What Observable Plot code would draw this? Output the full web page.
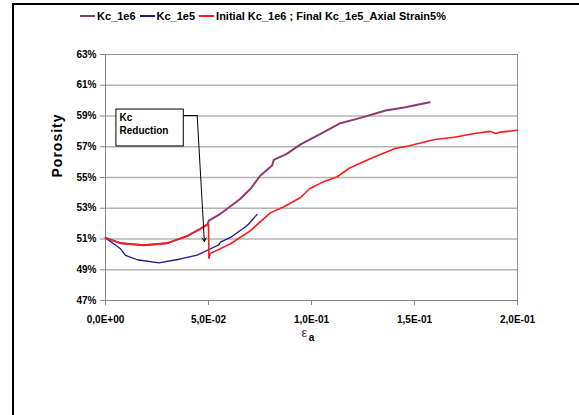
<!DOCTYPE html>
<html><head><meta charset="utf-8">
<script src="https://cdn.jsdelivr.net/npm/d3@7"></script>
<script src="https://cdn.jsdelivr.net/npm/@observablehq/plot@0.6"></script>
<style>
body{margin:0;background:#fff;font-family:"Liberation Sans",Arial,sans-serif;}
#wrap{position:relative;width:579px;height:415px;overflow:hidden;}
#frame{position:absolute;left:12px;top:3px;width:620px;height:500px;border-left:2px solid #000;border-top:2px solid #000;box-sizing:border-box;pointer-events:none;}
#legend{position:absolute;left:80px;top:10px;display:flex;align-items:center;font-weight:bold;font-size:11px;white-space:nowrap;color:#000;}
.sw{width:15px;height:2px;margin-right:2px;}
.it{display:flex;align-items:center;margin-right:4px;}
</style></head><body>
<div id="wrap"><div id="chart"></div><div id="frame"></div><div id="legend"></div></div>
<script>
// ---- data ----
const seriesNames = ["Kc_1e6", "Kc_1e5", "Initial Kc_1e6 ; Final Kc_1e5_Axial Strain5%"];
const seriesColors = ["#8e3a6e", "#1a1a8c", "#ff1a1a"];

const kc1e6X = [0, 0.0073, 0.0186, 0.030, 0.0398, 0.046, 0.0494, 0.0502, 0.0558, 0.0623, 0.0655, 0.0704, 0.0752, 0.0809, 0.0817, 0.088, 0.0947, 0.1044, 0.114, 0.1238, 0.136, 0.1455, 0.1574];
const kc1e6Y = [51.07, 50.73, 50.6, 50.73, 51.2, 51.66, 51.94, 52.2, 52.64, 53.29, 53.62, 54.27, 55.13, 55.78, 56.15, 56.54, 57.15, 57.84, 58.53, 58.88, 59.36, 59.57, 59.9];

const kc1e5X = [0, 0.0073, 0.0097, 0.0154, 0.0259, 0.0364, 0.0445, 0.05, 0.055, 0.0558, 0.0607, 0.0688, 0.0736];
const kc1e5Y = [51.07, 50.36, 49.93, 49.65, 49.45, 49.7, 49.95, 50.3, 50.62, 50.8, 51.1, 51.88, 52.6];

const mixX = [0, 0.0073, 0.0186, 0.030, 0.0398, 0.046, 0.0494, 0.0500, 0.0502, 0.0508, 0.0607, 0.0704, 0.080, 0.0866, 0.0947, 0.099, 0.1055, 0.1125, 0.1183, 0.123, 0.131, 0.1406, 0.147, 0.1597, 0.1694, 0.179, 0.1869, 0.1893, 0.1915, 0.2];
const mixY = [51.07, 50.73, 50.6, 50.73, 51.2, 51.66, 51.94, 51.94, 49.75, 50.05, 50.69, 51.55, 52.7, 53.1, 53.7, 54.27, 54.7, 55.05, 55.6, 55.9, 56.37, 56.89, 57.05, 57.47, 57.62, 57.86, 58.0, 57.86, 57.95, 58.07];

const xTicks = [0, 0.05, 0.1, 0.15, 0.2];
const xTickLabels = ["0,0E+00", "5,0E-02", "1,0E-01", "1,5E-01", "2,0E-01"];
const yTicks = [47, 49, 51, 53, 55, 57, 59, 61, 63];
const yGrid = [49, 51, 53, 55, 57, 59, 61];
const yLabel = "Porosity";
const xLabelMain = "ε";
const xLabelSub = "a";

const noteLines = ["Kc", "Reduction"];
const noteBox = {x1: 0.0053, x2: 0.038, y1: 59.42, y2: 57.02};
const noteText = [{x: 0.0068, y: 58.9, t: noteLines[0]}, {x: 0.0068, y: 58.06, t: noteLines[1]}];
const leader = [{x: 0.038, y: 59.03}, {x: 0.0445, y: 59.03}];
const arrowSeg = [{x1: 0.0445, y1: 59.03, x2: 0.048, y2: 50.84}];

// ---- build ----
const toRows = (xs, ys) => xs.map((x, i) => ({x, y: ys[i]}));
const r6 = toRows(kc1e6X, kc1e6Y), r5 = toRows(kc1e5X, kc1e5Y), rm = toRows(mixX, mixY);

const chart = Plot.plot({
  width: 579, height: 415,
  marginLeft: 105, marginRight: 62, marginTop: 54, marginBottom: 115,
  style: {fontFamily: "Liberation Sans, Arial, sans-serif", fontSize: "10px", fontWeight: "bold", background: "transparent", overflow: "visible", color: "#000"},
  x: {domain: [0, 0.2]},
  y: {domain: [47, 63]},
  marks: [
    Plot.gridY(yGrid, {stroke: "#b4b4b4", strokeOpacity: 1, strokeWidth: 1.5}),
    Plot.ruleY([63], {stroke: "#8c8cae"}),
    Plot.ruleX([0.2], {stroke: "#8c8cae"}),
    Plot.ruleX([0], {stroke: "#868686"}),
    Plot.ruleY([47], {stroke: "#868686"}),
    Plot.axisY({ticks: yTicks, tickFormat: d => d + "%", tickSize: 5, tickPadding: 4, label: null, stroke: "#868686"}),
    Plot.axisX({ticks: xTicks, tickFormat: d => xTickLabels[xTicks.indexOf(d)], tickSize: 5, tickPadding: 10, label: null, stroke: "#868686"}),
    Plot.line(r6, {x: "x", y: "y", stroke: seriesColors[0], strokeWidth: 2}),
    Plot.line(r5, {x: "x", y: "y", stroke: seriesColors[1], strokeWidth: 1.3}),
    Plot.line(rm, {x: "x", y: "y", stroke: seriesColors[2], strokeWidth: 1.6}),
    Plot.rect([noteBox], {x1: "x1", x2: "x2", y1: "y1", y2: "y2", fill: "white", stroke: "black", strokeWidth: 1}),
    Plot.text(noteText, {x: "x", y: "y", text: "t", textAnchor: "start", fontSize: 10, fontWeight: "bold"}),
    Plot.line(leader, {x: "x", y: "y", stroke: "black", strokeWidth: 1}),
    Plot.arrow(arrowSeg, {x1: "x1", y1: "y1", x2: "x2", y2: "y2", stroke: "black", strokeWidth: 1, headLength: 6}),
    Plot.text([yLabel], {frameAnchor: "left", dx: -48, rotate: -90, fontSize: 14, fontWeight: "bold"}),
    Plot.text([xLabelMain], {frameAnchor: "bottom", dx: -7, dy: 36, fontSize: 13, fontWeight: "normal", fill: "#333"}),
    Plot.text([xLabelSub], {frameAnchor: "bottom", dx: 0, dy: 40, fontSize: 10, fontWeight: "bold"})
  ]
});
document.getElementById("chart").appendChild(chart);
d3.select(chart).selectAll("text").filter(function(){ return this.textContent === yLabel; }).style("letter-spacing", "1px");

// legend
const lg = d3.select("#legend");
seriesNames.forEach((n, i) => {
  const it = lg.append("div").attr("class", "it");
  it.append("div").attr("class", "sw").style("background", seriesColors[i]);
  it.append("span").text(n);
});
</script>
</body></html>
